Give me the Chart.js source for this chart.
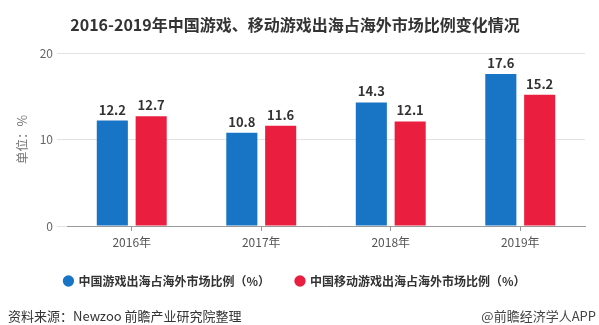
<!DOCTYPE html>
<html>
<head>
<meta charset="utf-8">
<script src="https://cdn.jsdelivr.net/npm/chart.js@4/dist/chart.umd.min.js"></script>
<style>
  html, body { margin: 0; padding: 0; background: #fff; }
  #wrap { position: relative; width: 599px; height: 325px; overflow: hidden; }
  #chart { position: absolute; left: 0; top: 0; }
  .foot { position: absolute; top: 306px; font: 13px "Noto Sans CJK SC", sans-serif; color: #333; white-space: nowrap; }
  #src { left: 8px; }
  #brand { right: 3px; color: #444; }
</style>
</head>
<body>
<div id="wrap">
  <canvas id="chart" width="599" height="325"></canvas>
  <div class="foot" id="src">资料来源：Newzoo 前瞻产业研究院整理</div>
  <div class="foot" id="brand">@前瞻经济学人APP</div>
</div>
<script>
const categories = ['2016年', '2017年', '2018年', '2019年'];
const gameShare = [12.2, 10.8, 14.3, 17.6];
const mobileShare = [12.7, 11.6, 12.1, 15.2];
const yTicks = [0, 10, 20];

const seriesNames = ['中国游戏出海占海外市场比例（%）', '中国移动游戏出海占海外市场比例（%）'];

Chart.defaults.font.family = '"Noto Sans CJK SC", "Microsoft YaHei", sans-serif';

// numbers on top of the bars
const valueLabels = {
    id: 'valueLabels',
    afterDatasetsDraw(chart) {
        const ctx = chart.ctx;
        ctx.save();
        ctx.font = 'bold 13px "Noto Sans CJK SC", sans-serif';
        ctx.fillStyle = '#333';
        ctx.textAlign = 'center';
        ctx.textBaseline = 'alphabetic';
        chart.data.datasets.forEach((ds, i) => {
            chart.getDatasetMeta(i).data.forEach((bar, j) => {
                ctx.fillText(ds.data[j].toFixed(1), bar.x, bar.y - 6);
            });
        });
        ctx.restore();
    }
};

const ctx = document.getElementById('chart').getContext('2d');
const myChart = new Chart(ctx, {
    type: 'bar',
    data: {
        labels: categories,
        datasets: [{
            label: seriesNames[0],
            data: gameShare,
            backgroundColor: '#1874c5',
            categoryPercentage: 0.6,
            barPercentage: 0.8
        }, {
            label: seriesNames[1],
            data: mobileShare,
            backgroundColor: '#ea1f40',
            categoryPercentage: 0.6,
            barPercentage: 0.8
        }]
    },
    options: {
        responsive: false,
        animation: false,
        layout: {
            padding: { left: 5, right: 14, top: 0, bottom: 28 }
        },
        plugins: {
            title: {
                display: true,
                text: '2016-2019年中国游戏、移动游戏出海占海外市场比例变化情况',
                color: '#333',
                font: { size: 16, weight: 'bold' },
                padding: { top: 15, bottom: 19 }
            },
            legend: {
                position: 'bottom',
                labels: {
                    usePointStyle: true,
                    pointStyle: 'circle',
                    boxWidth: 8,
                    boxHeight: 8,
                    color: '#333',
                    padding: 26,
                    font: { size: 12, weight: 'bold' }
                }
            },
            tooltip: { enabled: false }
        },
        scales: {
            x: {
                afterFit(scale) { scale.height = 23; },
                grid: {
                    display: true,
                    drawOnChartArea: false,
                    drawTicks: true,
                    offset: false,
                    tickLength: 5,
                    color: '#999'
                },
                border: { color: '#999' },
                ticks: { color: '#555', font: { size: 12 }, padding: 4 }
            },
            y: {
                min: 0,
                max: 20,
                afterFit(scale) { scale.width = 62; },
                afterBuildTicks(scale) { scale.ticks = yTicks.map(v => ({ value: v })); },
                grid: { color: '#e2e2e2', tickLength: 10 },
                border: { display: false },
                ticks: { color: '#666', font: { size: 12 }, padding: 4 },
                title: {
                    display: true,
                    text: '单位：%',
                    color: '#777',
                    font: { size: 12.5 },
                    padding: { top: 10, bottom: 0 }
                }
            }
        }
    },
    plugins: [valueLabels]
});
</script>
</body>
</html>
